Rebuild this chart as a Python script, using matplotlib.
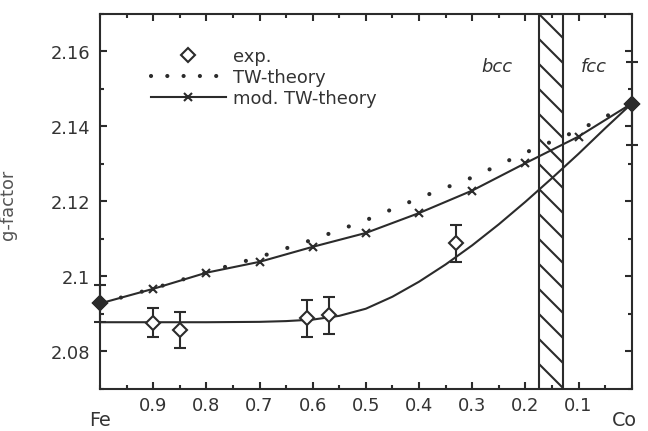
import matplotlib
matplotlib.use('Agg')
import matplotlib.pyplot as plt
from matplotlib.lines import Line2D
from matplotlib.ticker import MultipleLocator, FixedLocator

# ---------------- data ----------------
exp_x = [1.0, 0.9, 0.85, 0.61, 0.57, 0.33, 0.0]
exp_y = [2.0928, 2.0877, 2.0857, 2.0888, 2.0896, 2.1088, 2.1461]
exp_err = [0.0049, 0.0039, 0.0049, 0.0049, 0.0050, 0.0049, 0.0110]

tw_x = [1.0, 0.9, 0.8, 0.7, 0.6, 0.5, 0.4, 0.3, 0.2, 0.1, 0.0]
tw_y = [2.0928, 2.0968, 2.1011, 2.1052, 2.1098, 2.1150, 2.1209, 2.1264, 2.1330, 2.1390, 2.1461]

mod_x = [1.0, 0.9, 0.8, 0.7, 0.6, 0.5, 0.4, 0.3, 0.2, 0.1, 0.0]
mod_y = [2.0928, 2.0967, 2.1010, 2.1039, 2.1079, 2.1116, 2.1169, 2.1229, 2.1302, 2.1373, 2.1461]

fit_x = [1.0, 0.8, 0.7, 0.65, 0.6, 0.55, 0.5, 0.45, 0.4, 0.35, 0.3, 0.25, 0.2, 0.15, 0.1, 0.05, 0.0]
fit_y = [2.0878, 2.0878, 2.0879, 2.0881, 2.0885, 2.0895, 2.0914, 2.0946, 2.0986, 2.1032,
         2.1083, 2.1139, 2.1199, 2.1262, 2.1327, 2.1395, 2.1461]

phase_lo, phase_hi = 0.13, 0.175
xticks = [0.9, 0.8, 0.7, 0.6, 0.5, 0.4, 0.3, 0.2, 0.1]
xtick_labels = ['0.9', '0.8', '0.7', '0.6', '0.5', '0.4', '0.3', '0.2', '0.1']
yticks = [2.08, 2.10, 2.12, 2.14, 2.16]
ytick_labels = ['2.08', '2.1', '2.12', '2.14', '2.16']
legend_labels = ['exp.', 'TW-theory', 'mod. TW-theory']

# ---------------- style ----------------
DPI = 150
fs = 8.6
ink = '#2b2b2b'
txt = '#333333'
plt.rcParams['font.family'] = ['DejaVu Sans']
plt.rcParams['hatch.linewidth'] = 1.0
plt.rcParams['hatch.color'] = ink

fig = plt.figure(figsize=(648 / DPI, 431.1 / DPI), dpi=DPI)
ax = fig.add_axes([100 / 648, 1 - 389 / 431, (631.7 - 100) / 648, (389 - 14) / 431])

lw = 1.0

# phase boundary hatched band
ax.axvspan(phase_lo, phase_hi, facecolor='none', edgecolor=ink, hatch='\\\\', lw=lw, zorder=1)

# fit through experiment
ax.plot(fit_x, fit_y, color=ink, lw=lw, zorder=3, solid_joinstyle='round')

# TW theory (dotted)
dot_lw = 2.0
ax.plot(tw_x, tw_y, color=ink, lw=dot_lw, linestyle=(0, (0.01, 5.2)),
        dash_capstyle='round', zorder=3)

# modified TW theory
ax.plot(mod_x, mod_y, color=ink, lw=lw, marker='x', ms=4.0, mew=1.0, zorder=4, clip_on=False)

# experimental points
ax.errorbar(exp_x, exp_y, yerr=exp_err, fmt='none', ecolor=ink, elinewidth=lw,
            capsize=2.9, capthick=lw, zorder=5, clip_on=False)
ax.plot(exp_x, exp_y, ls='none', marker='D', ms=5.0, mfc='white', mec=ink, mew=1.0,
        zorder=6, clip_on=False)
ax.plot([exp_x[0], exp_x[-1]], [exp_y[0], exp_y[-1]], ls='none', marker='D', ms=5.0,
        mfc=ink, mec=ink, mew=1.0, zorder=7, clip_on=False)

# axes
ax.set_xlim(1.0, 0.0)
ax.set_ylim(2.07, 2.17)
ax.xaxis.set_major_locator(FixedLocator(xticks))
ax.set_xticklabels(xtick_labels)
ax.xaxis.set_minor_locator(MultipleLocator(0.05))
ax.yaxis.set_major_locator(FixedLocator(yticks))
ax.set_yticklabels(ytick_labels)
ax.yaxis.set_minor_locator(MultipleLocator(0.01))
ax.tick_params(which='both', direction='in', top=True, right=True, color=ink, width=1.0,
               labelsize=fs, labelcolor=txt)
ax.tick_params(which='major', length=3.4)
ax.tick_params(which='minor', length=2.0)
ax.tick_params(axis='x', pad=3.6)
ax.tick_params(axis='y', pad=4.8)
for s in ax.spines.values():
    s.set_color(ink)
    s.set_linewidth(1.0)

ax.set_ylabel('g-factor', fontsize=fs, color='#555555')
ax.yaxis.set_label_coords(-(100 - 17.5) / 531.7, 0.49)

# element labels
trans = ax.get_xaxis_transform()
ax.text(1.0, -0.085, 'Fe', transform=trans, ha='center', va='center', fontsize=fs + 0.6, color=txt)
ax.text(0.038, -0.085, 'Co', transform=trans, ha='left', va='center', fontsize=fs + 0.6, color=txt)

# phase labels
ax.text(0.254, 2.1559, 'bcc', style='italic', ha='center', va='center', fontsize=fs, color=txt)
ax.text(0.072, 2.1559, 'fcc', style='italic', ha='center', va='center', fontsize=fs, color=txt)

# legend
h_exp = Line2D([], [], ls='none', marker='D', ms=5.0, mfc='white', mec=ink, mew=1.0)
h_tw = Line2D([], [], color=ink, lw=dot_lw, linestyle=(0, (0.01, 3.9)), dash_capstyle='round')
h_mod = Line2D([], [], color=ink, lw=lw, marker='x', ms=4.0, mew=1.0)
leg = ax.legend([h_exp, h_tw, h_mod], legend_labels, loc='upper left',
                bbox_to_anchor=(0.095, 0.91), frameon=False, fontsize=fs,
                handlelength=4.2, handletextpad=0.4, labelspacing=0.17,
                borderpad=0, borderaxespad=0, numpoints=1)
for t in leg.get_texts():
    t.set_color(txt)

fig.savefig('out.png', dpi=DPI)
